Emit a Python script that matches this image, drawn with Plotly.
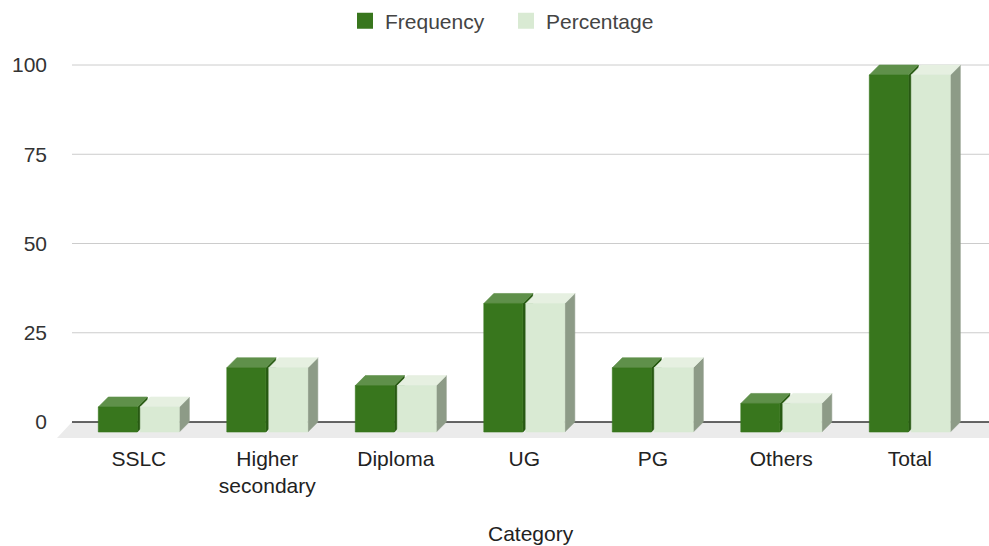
import plotly.graph_objects as go

# ---- data ----
categories = ["SSLC", "Higher<br>secondary", "Diploma", "UG", "PG", "Others", "Total"]
frequency = [7, 18, 13, 36, 18, 8, 100]
percentage = [7, 18, 13, 36, 18, 8, 100]
y_ticks = [0, 25, 50, 75, 100]

# ---- canvas geometry ----
W, H = 989, 546
M_L, M_R, M_T, M_B = 50, 0, 62, 106
PX_CAT = 128.5          # pixels between category centres
PX_UNIT = 3.57          # pixels per value unit
X0_PX = 138.8           # pixel position of the first category
Y0_PX = 422             # pixel position of value 0
FONT = "Arial, Liberation Sans"
FS = 21

def xpx(p):
    return (p - X0_PX) / PX_CAT

def ypx(p):
    return (Y0_PX - p) / PX_UNIT

x_range = [xpx(M_L), xpx(W - M_R)]
y_range = [ypx(H - M_B), ypx(M_T)]

# extrusion depth of the pseudo-3D bars
DX = 10 / PX_CAT
DY = 10 / PX_UNIT
BAR_W = 39 / PX_CAT
GAP = 3 / PX_CAT

series = [
    dict(name="Frequency", values=frequency, offset=-(GAP / 2 + BAR_W),
         front="#38761d", top="#5f904a", side="#275912"),
    dict(name="Percentage", values=percentage, offset=GAP / 2,
         front="#d9ead3", top="#e6f0e1", side="#8d9b87"),
]

fig = go.Figure()

# floor band under the bars
fx_left_top = xpx(72)
fx_left_bot = xpx(57)
floor_y = ypx(438)
fig.add_trace(go.Scatter(
    x=[fx_left_top, x_range[1], x_range[1], fx_left_bot, fx_left_top],
    y=[0, 0, floor_y, floor_y, 0],
    fill="toself", fillcolor="#ebebeb", mode="lines",
    line=dict(width=0, color="#ebebeb"), showlegend=False, hoverinfo="skip"))

# horizontal gridlines
for t in y_ticks[1:]:
    fig.add_trace(go.Scatter(
        x=[fx_left_top, x_range[1]], y=[t, t], mode="lines",
        line=dict(color="#cccccc", width=1), showlegend=False, hoverinfo="skip"))

# baseline
fig.add_trace(go.Scatter(
    x=[fx_left_top, x_range[1]], y=[0, 0], mode="lines",
    line=dict(color="#333333", width=1.5), showlegend=False, hoverinfo="skip"))


def faces(vals, offset):
    side_x, side_y, top_x, top_y, front_x, front_y = [], [], [], [], [], []
    for i, v in enumerate(vals):
        a = i + offset          # front-left
        b = a + BAR_W           # front-right
        lo, hi = -DY, v - DY    # front bottom / top
        front_x += [a, b, b, a, a, None]
        front_y += [lo, lo, hi, hi, lo, None]
        top_x += [a, b, b + DX, a + DX, a, None]
        top_y += [hi, hi, v, v, hi, None]
        side_x += [b, b + DX, b + DX, b, b, None]
        side_y += [lo, 0, v, hi, lo, None]
    return (side_x, side_y), (top_x, top_y), (front_x, front_y)


for s in series:
    (sx, sy), (tx, ty), (fx, fy) = faces(s["values"], s["offset"])
    for (xx, yy, col) in [(sx, sy, s["side"]), (tx, ty, s["top"]), (fx, fy, s["front"])]:
        fig.add_trace(go.Scatter(
            x=xx, y=yy, fill="toself", fillcolor=col, mode="lines",
            line=dict(width=0.6, color=col), showlegend=False,
            hoverinfo="skip"))

# legend entries
for s in series:
    fig.add_trace(go.Scatter(
        x=[None], y=[None], mode="markers", name=s["name"],
        marker=dict(symbol="square", size=19, color=s["front"])))

fig.add_annotation(
    text="Category", xref="x", x=(fx_left_top + x_range[1]) / 2,
    yref="paper", y=(H - M_B - 533) / (H - M_T - M_B),
    yanchor="middle", showarrow=False,
    font=dict(family=FONT, size=FS, color="#222222"))

fig.update_layout(
    width=W, height=H,
    margin=dict(l=M_L, r=M_R, t=M_T, b=M_B),
    paper_bgcolor="white", plot_bgcolor="white",
    font=dict(family=FONT, size=FS, color="#333333"),
    showlegend=True,
    legend=dict(orientation="h", x=(345 - M_L) / (W - M_L - M_R), xanchor="left",
                y=(H - M_B - 21) / (H - M_T - M_B), yanchor="middle",
                entrywidth=116, entrywidthmode="pixels",
                font=dict(size=FS, color="#444444"), itemsizing="trace"),
    xaxis=dict(range=x_range, tickvals=list(range(len(categories))),
               ticktext=categories, showgrid=False, zeroline=False,
               showline=False, ticks="", fixedrange=True, ticklabelstandoff=4,
               tickfont=dict(size=FS, color="#222222")),
    yaxis=dict(range=y_range, tickvals=y_ticks, showgrid=False,
               zeroline=False, showline=False, ticks="", ticklabelstandoff=2,
               tickfont=dict(size=FS, color="#333333")),
)

fig.write_html("out.html")
